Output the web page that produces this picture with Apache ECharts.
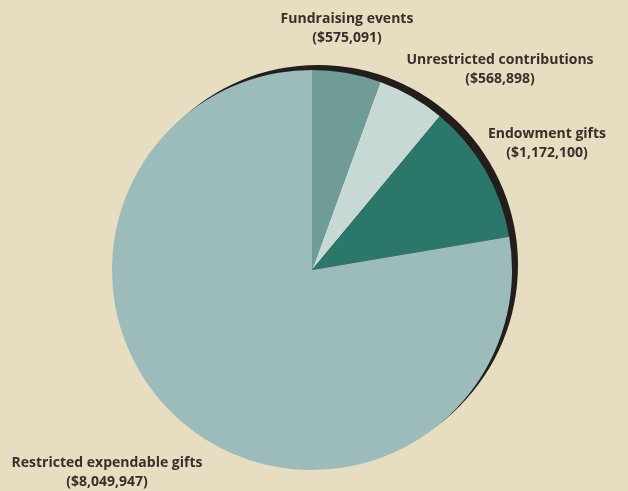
<!DOCTYPE html>
<html>
<head>
<meta charset="utf-8">
<script src="https://cdn.jsdelivr.net/npm/echarts@6/dist/echarts.min.js"></script>
<style>
  html, body { margin: 0; padding: 0; background: #e7dec2; }
  #chart { width: 628px; height: 491px; }
</style>
</head>
<body>
<div id="chart"></div>
<script>
// Sources of gift income, in dollars
const categories = [
  'Fundraising events',
  'Unrestricted contributions',
  'Endowment gifts',
  'Restricted expendable gifts'
];
const amounts = [575091, 568898, 1172100, 8049947];
const sliceColors = ['#6f9c97', '#c6d9d5', '#2b7769', '#9cbcbb'];

// Where each two-line label sits (centre of the text block)
const labelSpots = [
  { x: 347, y: 29 },
  { x: 500, y: 70 },
  { x: 547, y: 144 },
  { x: 107, y: 473 }
];

const fmt = v => '($' + v.toLocaleString('en-US') + ')';

const chart = echarts.init(document.getElementById('chart'));
chart.setOption({
  backgroundColor: '#e7dec2',
  animation: false,
  series: [
    {
      // dark drop shadow behind the disc
      type: 'pie',
      silent: true,
      z: 1,
      center: [318, 265],
      radius: [0, 200],
      label: { show: false },
      labelLine: { show: false },
      data: [{ value: 1, itemStyle: { color: '#231e1b' } }]
    },
    {
      type: 'pie',
      z: 2,
      center: [312, 270],
      radius: [0, 200],
      startAngle: 90,
      clockwise: true,
      itemStyle: { borderWidth: 0 },
      labelLine: { show: false },
      label: {
        show: true,
        position: 'outside',
        overflow: 'none',
        formatter: p => p.name + '\n' + fmt(p.value),
        fontFamily: '"Open Sans", sans-serif',
        fontWeight: 'bold',
        fontSize: 14,
        lineHeight: 19,
        color: '#3a2e2a',
        align: 'center'
      },
      labelLayout: params => ({
        x: labelSpots[params.dataIndex].x,
        y: labelSpots[params.dataIndex].y,
        align: 'center',
        verticalAlign: 'middle'
      }),
      data: categories.map((name, i) => ({
        name: name,
        value: amounts[i],
        itemStyle: { color: sliceColors[i] }
      }))
    }
  ]
});
</script>
</body>
</html>
